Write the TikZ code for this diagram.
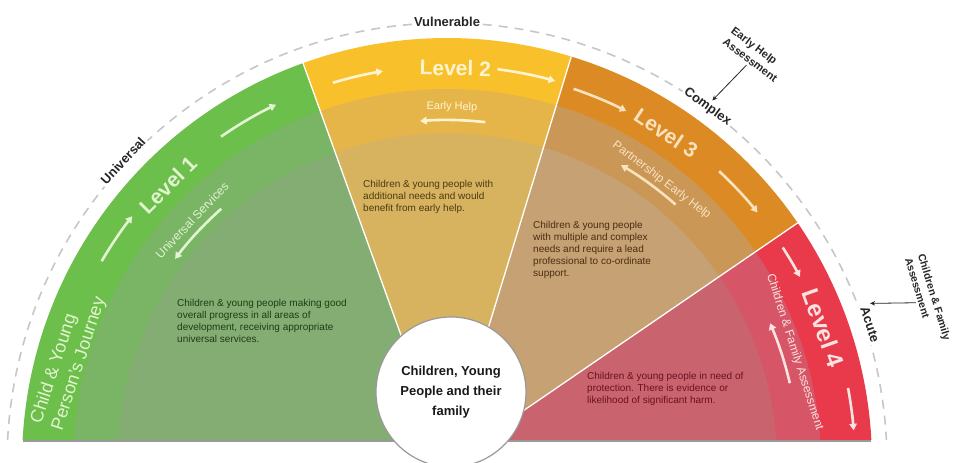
\documentclass[tikz,border=0pt]{standalone}
\usepackage{fontspec}
\setmainfont{Liberation Sans}
\usetikzlibrary{arrows.meta}

% sector palettes: outer band, middle band, inner field, light ink, body text
\definecolor{grOut}{HTML}{6CBF4A}
\definecolor{grMid}{HTML}{7AB566}
\definecolor{grIn}{HTML}{84AD74}
\definecolor{grInk}{HTML}{E2F4D2}
\definecolor{grText}{HTML}{1F3D12}
\definecolor{yeOut}{HTML}{F8C12C}
\definecolor{yeMid}{HTML}{E6B54A}
\definecolor{yeIn}{HTML}{D8B35F}
\definecolor{yeInk}{HTML}{FFF4CF}
\definecolor{yeText}{HTML}{4A3A14}
\definecolor{orOut}{HTML}{DC8B24}
\definecolor{orMid}{HTML}{CB9757}
\definecolor{orIn}{HTML}{C5A173}
\definecolor{orInk}{HTML}{F9E2BE}
\definecolor{orText}{HTML}{4B2D12}
\definecolor{reOut}{HTML}{E83A4B}
\definecolor{reMid}{HTML}{D65567}
\definecolor{reIn}{HTML}{C9646F}
\definecolor{reInk}{HTML}{FBE3E0}
\definecolor{reText}{HTML}{6B1020}

\tikzset{
  divider/.style={draw=white, line width=1.3pt},
  bandarrow/.style={draw=#1, line width=2.6pt, -{Triangle[length=6.5pt,width=7.5pt]}},
  lvl/.style={text=#1, font=\bfseries\fontsize{21}{24}\selectfont, inner sep=0pt},
  sublbl/.style={text=#1, font=\fontsize{12}{14}\selectfont, inner sep=0pt},
  body/.style={text=#1, font=\fontsize{10}{12}\selectfont, align=left, anchor=north west, inner sep=0pt},
  arclbl/.style={fill=white, text=black!85, font=\bfseries\fontsize{13}{15}\selectfont, inner sep=2pt},
  dashring/.style={draw=black!22, line width=1.6pt, dash pattern=on 9pt off 7pt},
  annot/.style={text=black!85, font=\bfseries\fontsize{11}{14}\selectfont, align=left, inner sep=2pt},
  annotline/.style={draw=black!85, line width=0.8pt, -{Stealth[length=5pt,width=4.5pt]}},
  hubstyle/.style={circle, fill=white, draw=black!40, line width=1.2pt, minimum size=150pt,
    inner sep=0pt, align=center, text=black!90, font=\bfseries\fontsize{13}{20}\selectfont},
}

\begin{document}
\begin{tikzpicture}[x=1pt,y=1pt]
\useasboundingbox (-447,0) rectangle (506,463);
\fill[white] (-447,0) rectangle (506,463);

% the fan of four levels, cut along its base
\begin{scope}
  \clip (-447,23) rectangle (506,463);
  \foreach \a/\b/\o/\m/\i in {109.8/180/grOut/grMid/grIn, 73/109.8/yeOut/yeMid/yeIn,
                              34.4/73/orOut/orMid/orIn, 0/34.4/reOut/reMid/reIn}{
    \fill[\o] (0,0) -- (\a:425) arc[start angle=\a, end angle=\b, radius=425] -- cycle;
    \fill[\m] (0,0) -- (\a:374) arc[start angle=\a, end angle=\b, radius=374] -- cycle;
    \fill[\i] (0,0) -- (\a:330) arc[start angle=\a, end angle=\b, radius=330] -- cycle;
  }
  \foreach \a in {109.8,73,34.4}
    \draw[divider] (0,0) -- (\a:425);
\end{scope}
\draw[black!40, line width=1.5pt] (-424,22) -- (424,22);

% dashed ring of need
\draw[dashring] (177:440) arc[start angle=177, end angle=3, radius=440];

% level 1
\draw[bandarrow=grInk] (149.7:400) arc[start angle=149.7, end angle=141.9, radius=400];
\draw[bandarrow=grInk] (124.7:397) arc[start angle=124.7, end angle=115.5, radius=397];
\draw[bandarrow=grInk] (131.6:340) arc[start angle=131.6, end angle=143.1, radius=340];
\node[lvl=grInk, rotate=45.1] (l1) at (135.1:394) {Level 1};
\node[sublbl=grInk, rotate=46.4] (s1) at (136.4:352) {Universal Services};
\node[sublbl=grInk, rotate=72, align=left, font=\fontsize{18}{22}\selectfont] (journey) at (164.8:392)
  {Child \& Young\\Person's Journey};
\node[body=grText] (t1) at (-270,164)
  {Children \& young people making good\\overall progress in all areas of\\development, receiving appropriate\\universal services.};

% level 2
\draw[bandarrow=yeInk] (106.7:397) arc[start angle=106.7, end angle=99.3, radius=397];
\draw[bandarrow=yeInk] (82.7:397) arc[start angle=82.7, end angle=74.2, radius=397];
\draw[bandarrow=yeInk] (83.6:343) arc[start angle=83.6, end angle=94.5, radius=343];
\node[lvl=yeInk, rotate=-1.2] (l2) at (88.8:395) {Level 2};
\node[sublbl=yeInk, rotate=-0.8, font=\fontsize{11}{13}\selectfont] (s2) at (89.2:356) {Early Help};
\node[body=yeText] (t2) at (-84,283)
  {Children \& young people with\\additional needs and would\\benefit from early help.};

% level 3
\draw[bandarrow=orInk] (71.3:395) arc[start angle=71.3, end angle=63, radius=395];
\draw[bandarrow=orInk] (47:399) arc[start angle=47, end angle=38.9, radius=399];
\draw[bandarrow=orInk] (48.5:345) arc[start angle=48.5, end angle=59.7, radius=345];
\node[lvl=orInk, rotate=-33.6] (l3) at (56.4:396) {Level 3};
\node[sublbl=orInk, rotate=-37.2] (s3) at (52.8:355) {Partnership Early Help};
\node[body=orText] (t3) at (86,242)
  {Children \& young people\\with multiple and complex\\needs and require a lead\\professional to co-ordinate\\support.};

% level 4
\draw[bandarrow=reInk] (32.7:399) arc[start angle=32.7, end angle=27.8, radius=399];
\draw[bandarrow=reInk] (10.6:408) arc[start angle=10.6, end angle=4.6, radius=408];
\draw[bandarrow=reInk] (13.1:352) arc[start angle=13.1, end angle=23.4, radius=352];
\node[lvl=reInk, rotate=-70.3, font=\bfseries\fontsize{24}{26}\selectfont] (l4) at (19.7:400) {Level 4};
\node[sublbl=reInk, rotate=-72.3] (s4) at (17.7:365) {Children \& Family Assessment};
\node[body=reText] (t4) at (140,91)
  {Children \& young people in need of\\protection. There is evidence or\\likelihood of significant harm.};

% the child and family at the centre
\node[hubstyle] (hub) at (4,71) {Children, Young\\People and their\\family};

% labels on the ring and the assessments that lead into them
\node[arclbl, rotate=47] (universal) at (137:443) {Universal};
\node[arclbl] (vulnerable) at (90:441) {Vulnerable};
\node[arclbl, rotate=-36.2] (complex) at (53.8:441) {Complex};
\node[arclbl, rotate=-71.9] (acute) at (18.1:445) {Acute};
\node[annot, rotate=-37] (eha) at (307.5,408.5) {Early Help\\Assessment};
\node[annot, rotate=-73, font=\bfseries\fontsize{10.5}{13.5}\selectfont] (cfa) at (481,164)
  {Children \& Family\\Assessment};
\draw[annotline] (eha.south) -- (complex.north);
\draw[annotline] (cfa.south) -- (acute.north west);
\end{tikzpicture}
\end{document}
